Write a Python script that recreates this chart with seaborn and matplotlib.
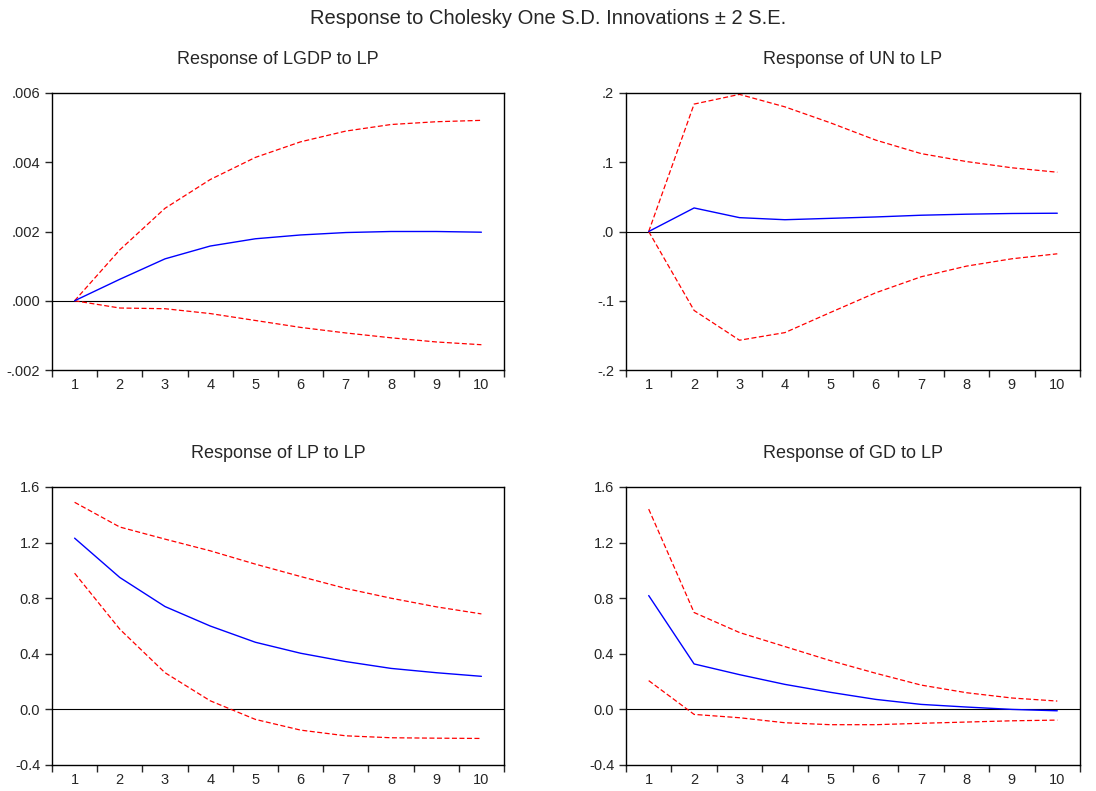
import numpy as np
import pandas as pd
import matplotlib
matplotlib.use("Agg")
import matplotlib.pyplot as plt
import seaborn as sns

# ---- data ----
periods = list(range(1, 11))

lgdp_resp = [0.0, 0.00062, 0.00121, 0.00158, 0.00179, 0.00190, 0.00197, 0.00200, 0.00200, 0.00198]
lgdp_upper = [0.0, 0.00147, 0.00267, 0.00350, 0.00414, 0.00459, 0.00490, 0.00509, 0.00517, 0.00521]
lgdp_lower = [0.0, -0.00021, -0.00023, -0.00037, -0.00057, -0.00077, -0.00093, -0.00107, -0.00119, -0.00127]

un_resp = [0.0, 0.034, 0.020, 0.017, 0.019, 0.021, 0.0235, 0.025, 0.026, 0.0264]
un_upper = [0.0, 0.184, 0.198, 0.180, 0.157, 0.132, 0.1125, 0.101, 0.092, 0.0856]
un_lower = [0.0, -0.114, -0.157, -0.146, -0.117, -0.0885, -0.0654, -0.050, -0.0394, -0.0322]

lp_resp = [1.232, 0.949, 0.740, 0.600, 0.483, 0.404, 0.344, 0.295, 0.264, 0.238]
lp_upper = [1.490, 1.312, 1.225, 1.141, 1.045, 0.956, 0.870, 0.800, 0.738, 0.687]
lp_lower = [0.980, 0.577, 0.264, 0.062, -0.072, -0.149, -0.190, -0.204, -0.207, -0.209]

gd_resp = [0.819, 0.327, 0.250, 0.180, 0.123, 0.072, 0.036, 0.017, 0.000, -0.010]
gd_upper = [1.441, 0.697, 0.553, 0.452, 0.351, 0.260, 0.175, 0.120, 0.082, 0.060]
gd_lower = [0.207, -0.036, -0.060, -0.096, -0.110, -0.110, -0.100, -0.091, -0.082, -0.077]

panel_titles = ["Response of LGDP to LP", "Response of UN to LP",
                "Response of LP to LP", "Response of GD to LP"]
y_ticks = [[-0.002, 0.0, 0.002, 0.004, 0.006],
           [-0.2, -0.1, 0.0, 0.1, 0.2],
           [-0.4, 0.0, 0.4, 0.8, 1.2, 1.6],
           [-0.4, 0.0, 0.4, 0.8, 1.2, 1.6]]
y_labels = [["-.002", ".000", ".002", ".004", ".006"],
            ["-.2", "-.1", ".0", ".1", ".2"],
            ["-0.4", "0.0", "0.4", "0.8", "1.2", "1.6"],
            ["-0.4", "0.0", "0.4", "0.8", "1.2", "1.6"]]

panels = [(lgdp_resp, lgdp_upper, lgdp_lower),
          (un_resp, un_upper, un_lower),
          (lp_resp, lp_upper, lp_lower),
          (gd_resp, gd_upper, gd_lower)]

# ---- plot ----
sns.set_style("ticks")
plt.rcParams["font.family"] = ["Liberation Sans", "DejaVu Sans"]

fig = plt.figure(figsize=(10.96, 7.91), dpi=100)
W, H = 1096, 791
# panel boxes in pixels: left, top, right, bottom
boxes = [(52, 93, 504, 370), (626, 93, 1080, 370),
         (52, 487, 504, 765), (626, 487, 1080, 765)]

for i, (resp, up, lo) in enumerate(panels):
    l, t, r, b = boxes[i]
    ax = fig.add_axes([l / W, 1 - b / H, (r - l) / W, (b - t) / H])
    ax.axhline(0, color="black", lw=0.8, zorder=1)
    sns.lineplot(x=periods, y=up, ax=ax, color="red", lw=0.9,
                 linestyle=(0, (4, 2)), zorder=2)
    sns.lineplot(x=periods, y=lo, ax=ax, color="red", lw=0.9,
                 linestyle=(0, (4, 2)), zorder=2)
    sns.lineplot(x=periods, y=resp, ax=ax, color="blue", lw=1.0, zorder=3)

    ax.set_xlim(0.5, 10.5)
    ax.set_ylim(y_ticks[i][0], y_ticks[i][-1])
    ax.set_xticks(periods)
    ax.set_xticklabels([str(p) for p in periods], fontsize=10.5)
    ax.set_xticks(np.arange(0.5, 11, 1), minor=True)
    ax.tick_params(axis="x", which="major", length=0, pad=6)
    ax.tick_params(axis="x", which="minor", length=5, width=1, direction="out")
    ax.set_yticks(y_ticks[i])
    ax.set_yticklabels(y_labels[i], fontsize=10.5)
    ax.tick_params(axis="y", length=5, width=1, direction="out")
    for s in ax.spines.values():
        s.set_visible(True)
        s.set_linewidth(1.0)
        s.set_color("black")
    ax.set_title(panel_titles[i], fontsize=13, pad=21)
    ax.set_xlabel("")
    ax.set_ylabel("")

fig.suptitle("Response to Cholesky One S.D. Innovations \u00b1 2 S.E.",
             fontsize=14.5, y=1 - 18 / H, va="center")

fig.savefig("out.png", dpi=100)
